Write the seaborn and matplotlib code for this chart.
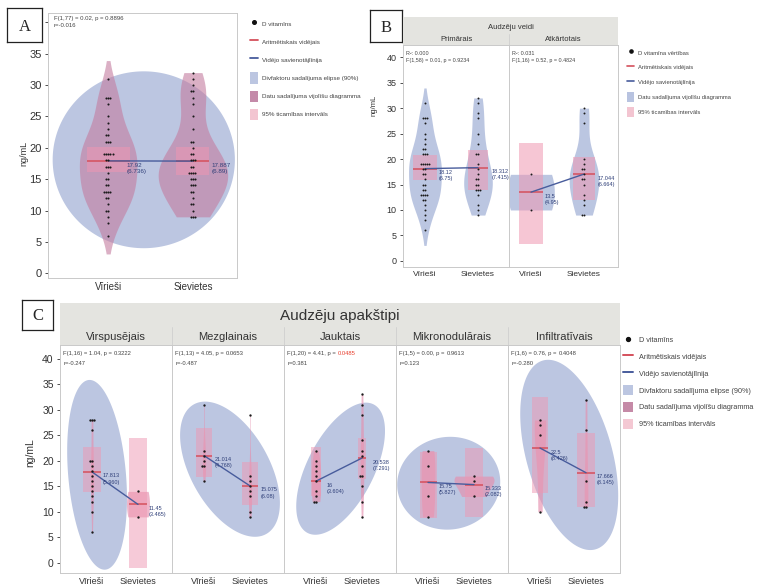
import numpy as np
import pandas as pd
import matplotlib
matplotlib.use("Agg")
import matplotlib.pyplot as plt
import seaborn as sns
from matplotlib.lines import Line2D
from matplotlib.patches import Patch

sns.set_theme(style="white")
plt.rcParams['font.family'] = ['Liberation Sans Narrow', 'Liberation Sans', 'DejaVu Sans']

SEXES = ["Vīrieši", "Sievietes"]

# ---------------- data: panel B (tumour types) ----------------
b_types = ["Primārais", "Atkārtotais"]
prim_men = [31, 28, 28, 28, 27, 25, 24, 23, 22, 22, 21, 21, 21, 19, 19, 19, 19, 19, 18,
            18, 17, 17, 16, 15, 15, 14, 14, 13, 13, 13, 13, 12, 12, 11, 10, 9, 8, 6]
prim_women = [32, 31, 29, 28, 25, 23, 21, 21, 19, 18, 17, 16, 16, 15, 15, 14, 14, 14,
              13, 11, 10, 9]
rec_men = [17, 10]
rec_women = [30, 29, 27, 20, 19, 18, 18, 17, 16, 16, 15, 13, 12, 11, 9, 9]
b_means = [[18.12, 18.312], [13.5, 17.044]]
b_sd = [["6.75", "7.415"], ["4.95", "6.664"]]
b_ci_low = [[15.9, 13.9], [3.4, 11.9]]
b_ci_high = [[20.8, 21.8], [23.1, 20.5]]
b_r2 = ["0.000", "0.031"]
b_f = ["F(1,58) = 0.01, p = 0.9234", "F(1,16) = 0.52, p = 0.4824"]

# ---------------- data: panel A (all patients) ----------------
a_men = prim_men + rec_men
a_women = prim_women + rec_women
a_means = [17.92, 17.887]
a_sd = ["6.736", "6.89"]
a_ci_low = [16.2, 15.7]
a_ci_high = [20.2, 20.2]
a_ellipse = [0.42, 18.1, 1.075, 14.1, 0.0]   # centre x, centre y, half x, half y, r
a_stats = "F(1,77) = 0.02, p = 0.8896\nr=-0.016"

# ---------------- data: panel C (tumour subtypes) ----------------
c_types = ["Virspusējais", "Mezglainais", "Jauktais", "Mikronodulārais", "Infiltratīvais"]
c_men = [[28, 28, 28, 26, 20, 20, 19, 18, 17, 16, 15, 14, 13, 12, 10, 6],
         [31, 22, 21, 20, 19, 19, 16],
         [22, 20, 19, 18, 17, 16, 14, 13, 12, 12],
         [22, 19, 13, 9],
         [28, 27, 25, 10]]
c_women = [[14, 9],
           [29, 17, 16, 15, 14, 13, 10, 9],
           [33, 31, 29, 24, 22, 21, 19, 17, 17, 15, 12, 9],
           [17, 16, 13],
           [32, 26, 16, 12, 11, 11]]
c_means = [[17.813, 11.45], [21.014, 15.075], [16, 20.538], [15.75, 15.333], [22.5, 17.666]]
c_sd = [["5.960", "3.465"], ["4.768", "6.08"], ["3.604", "7.291"], ["5.827", "2.082"],
        ["8.426", "8.145"]]
c_ci_low = [[13.9, -1.0], [16.9, 11.4], [13.0, 16.5], [8.8, 9.0], [13.7, 11.0]]
c_ci_high = [[22.7, 24.5], [26.5, 19.8], [22.7, 24.5], [21.8, 22.5], [32.6, 25.5]]
c_ellipse = [[0.11, 17.25, 0.65, 18.6, -0.25],
             [0.565, 18.35, 1.085, 13.25, -0.5],
             [0.535, 18.45, 0.965, 12.95, 0.57],
             [0.45, 15.6, 1.12, 9.1, 0.03],
             [0.635, 21.15, 1.065, 18.65, -0.43]]
c_f = ["F(1,16) = 1.04", "F(1,13) = 4.05", "F(1,20) = 4.41", "F(1,5) = 0.00", "F(1,6) = 0.76"]
c_p = ["0.3222", "0.0653", "0.0485", "0.9613", "0.4048"]
c_r = ["-0.247", "-0.487", "0.381", "0.123", "-0.280"]

# ---------------- styles ----------------
ELLIPSE = "#bcc6e1"
MAUVE = "#c47c9f"
PINK = "#ef97b2"
BLUE_VIO = "#b8c3e0"
MEAN = "#d4505c"
LINK = "#485c9c"
LABEL = "#2f3f78"
SPINE = "#c9c9c9"
BAND = "#e4e4e0"

fig = plt.figure(figsize=(7.8, 5.87), dpi=100)


def px_axes(x0, y0, x1, y1):
    return fig.add_axes([x0 / 780, 1 - y1 / 587, (x1 - x0) / 780, (y1 - y0) / 587])


def ellipse_xy(cx, cy, sx, sy, r):
    t = np.linspace(0, 2 * np.pi, 240)
    return cx + sx * np.cos(t), cy + sy * (r * np.cos(t) + np.sqrt(1 - r * r) * np.sin(t))


def draw_facet(ax, men, women, means, sd_txt, ci_lo, ci_hi, vio_w, vio_cut, vio_color,
               vio_alpha, ci_w, ci_alpha, lab_dx, lab_size, ellipse=None, dot=2.0):
    if ellipse is not None:
        ex, ey = ellipse_xy(*ellipse)
        ax.fill(ex, ey, color=ELLIPSE, lw=0, zorder=0)
    for i, vals in enumerate([men, women]):
        d = pd.DataFrame({"sex": SEXES[i], "val": vals})
        sns.violinplot(data=d, x="sex", y="val", order=SEXES, ax=ax, color=vio_color,
                       width=vio_w[i], cut=vio_cut[i], inner=None, linewidth=0,
                       saturation=1, alpha=vio_alpha, density_norm="width")
    pos = np.arange(2)
    ax.bar(pos, np.subtract(ci_hi, ci_lo), bottom=ci_lo, width=ci_w, color=PINK,
           alpha=ci_alpha, lw=0, zorder=2)
    half = np.array(ci_w) / 2
    ax.hlines(means, pos - half, pos + half, color=MEAN, lw=1.1, zorder=4)
    ax.plot(pos, means, color=LINK, lw=1.0, zorder=4)
    d_all = pd.DataFrame({"sex": [SEXES[0]] * len(men) + [SEXES[1]] * len(women),
                          "val": list(men) + list(women)})
    sns.swarmplot(data=d_all, x="sex", y="val", order=SEXES, ax=ax, color="#1b1b1b",
                  size=dot, zorder=5)
    for i in range(2):
        ax.text(i + lab_dx, means[i] - 0.3, f"{means[i]:g}\n({sd_txt[i]})", ha="left",
                va="top", fontsize=lab_size, color=LABEL, linespacing=1.3, zorder=6)
    ax.set_xlabel("")
    ax.set_ylabel("")
    for s in ax.spines.values():
        s.set_color(SPINE)
        s.set_linewidth(0.7)


def style_y(ax, show, size):
    ax.set_yticks(range(0, 41, 5))
    if show:
        ax.tick_params(axis="y", labelsize=size, colors="#333333", length=2.5, width=0.6,
                       left=True, pad=2)
    else:
        ax.tick_params(axis="y", left=False, labelleft=False)


def label_box(x0, y0, x1, y1, letter):
    lb = px_axes(x0, y0, x1, y1)
    lb.set_xticks([])
    lb.set_yticks([])
    for s in lb.spines.values():
        s.set_color("#222222")
        s.set_linewidth(0.9)
    lb.text(0.5, 0.45, letter, ha="center", va="center", fontsize=12,
            family="Liberation Serif", transform=lb.transAxes)


# ---------------- panel A ----------------
axA = px_axes(48, 13, 237, 278)
draw_facet(axA, a_men, a_women, a_means, a_sd, a_ci_low, a_ci_high,
           vio_w=[0.68, 0.82], vio_cut=[1.0, 0], vio_color=MAUVE, vio_alpha=0.6,
           ci_w=[0.51, 0.39], ci_alpha=0.55, lab_dx=0.22, lab_size=4.5,
           ellipse=a_ellipse, dot=1.5)
axA.set_xlim(-0.71, 1.52)
axA.set_ylim(-0.75, 41.5)
style_y(axA, True, 8)
axA.tick_params(axis="x", labelsize=7, colors="#333333", length=0, pad=3)
axA.set_ylabel("ng/mL", fontsize=6.5, color="#333333")
axA.yaxis.set_label_coords(-0.105, 0.47)
axA.text(0.03, 0.99, a_stats, transform=axA.transAxes, ha="left", va="top", fontsize=4.3,
         color="#444444", linespacing=1.7)
label_box(7, 8, 42, 42, "A")

legA = [Line2D([], [], marker="o", ls="", color="#111111", ms=2.6),
        Line2D([], [], color=MEAN, lw=1.3),
        Line2D([], [], color=LINK, lw=1.3),
        Patch(fc=ELLIPSE, ec="none"),
        Patch(fc="#c48aa9", ec="none"),
        Patch(fc="#f3c5d1", ec="none")]
labA = ["D vitamīns", "Aritmētiskais vidējais", "Vidējo savienotājlīnija",
        "Divfaktoru sadalījuma elipse (90%)", "Datu sadalījuma vijolīšu diagramma",
        "95% ticamības intervāls"]
fig.legend(legA, labA, loc="upper left", bbox_to_anchor=(250 / 780, 1 - 18 / 587),
           frameon=False, fontsize=4.5, handlelength=1.3, handleheight=2.4,
           labelspacing=1.1, handletextpad=0.6, borderpad=0, borderaxespad=0,
           labelcolor="#444444")

# ---------------- panel B ----------------
label_box(370, 10, 402, 42, "B")
hdrB = px_axes(403, 17, 618, 45)
hdrB.set_facecolor(BAND)
hdrB.set_xticks([])
hdrB.set_yticks([])
for s in hdrB.spines.values():
    s.set_visible(False)
hdrB.text(0.5, 0.62, "Audzēju veidi", ha="center", va="center", fontsize=5.5,
          color="#333333", transform=hdrB.transAxes)
b_edges = [403, 509, 618]
for j, name in enumerate(b_types):
    mid = ((b_edges[j] + b_edges[j + 1]) / 2 - 403) / 215
    hdrB.text(mid, 0.2, name, ha="center", va="center", fontsize=5.5, color="#333333",
              transform=hdrB.transAxes)
hdrB.axvline((509 - 403) / 215, 0, 0.4, color="#cfcfcf", lw=0.6)

b_groups = [(prim_men, prim_women), (rec_men, rec_women)]
b_vio_w = [[0.62, 0.54], [0.88, 0.56]]
b_vio_cut = [[1.0, 0], [0, 0]]
b_ci_w = [[0.44, 0.38], [0.47, 0.41]]
for j in range(2):
    ax = px_axes(b_edges[j], 45, b_edges[j + 1], 267)
    draw_facet(ax, b_groups[j][0], b_groups[j][1], b_means[j], b_sd[j], b_ci_low[j],
               b_ci_high[j], vio_w=b_vio_w[j], vio_cut=b_vio_cut[j], vio_color=BLUE_VIO,
               vio_alpha=0.95, ci_w=b_ci_w[j], ci_alpha=0.55, lab_dx=0.25, lab_size=4,
               dot=1.4)
    ax.set_xlim(-0.415, (b_edges[j + 1] - b_edges[j]) / 53 - 0.415)
    ax.set_ylim(-1.2, 42.4)
    style_y(ax, j == 0, 6.5)
    ax.tick_params(axis="x", labelsize=6, colors="#333333", length=0, pad=3)
    ax.text(0.03, 0.975, f"R²: {b_r2[j]}\n{b_f[j]}", transform=ax.transAxes, ha="left",
            va="top", fontsize=3.9, color="#444444", linespacing=1.7)
    if j == 0:
        ax.set_ylabel("ng/mL", fontsize=5.5, color="#333333")
        ax.yaxis.set_label_coords(-0.236, 0.73)

legB = [Line2D([], [], marker="o", ls="", color="#111111", ms=2.3),
        Line2D([], [], color=MEAN, lw=1.2),
        Line2D([], [], color=LINK, lw=1.2),
        Patch(fc=BLUE_VIO, ec="none"),
        Patch(fc="#f3c5d1", ec="none")]
labB = ["D vitamīna vērtības", "Aritmētiskais vidējais", "Vidējo savienotājlīnija",
        "Datu sadalījuma vijolīšu diagramma", "95% ticamības intervāls"]
fig.legend(legB, labB, loc="upper left", bbox_to_anchor=(627 / 780, 1 - 48 / 587),
           frameon=False, fontsize=4.2, handlelength=1.2, handleheight=2.2,
           labelspacing=0.85, handletextpad=0.6, borderpad=0, borderaxespad=0,
           labelcolor="#444444")

# ---------------- panel C ----------------
label_box(22, 300, 53, 330, "C")
hdrC = px_axes(60, 303, 620, 345)
hdrC.set_facecolor(BAND)
hdrC.set_xticks([])
hdrC.set_yticks([])
for s in hdrC.spines.values():
    s.set_visible(False)
hdrC.text(0.5, 0.7, "Audzēju apakštipi", ha="center", va="center", fontsize=11,
          family="Liberation Sans", color="#333333", transform=hdrC.transAxes)

c_vio_w = [[0.07, 0.5], [0.07, 0.07], [0.2, 0.08], [0.3, 0.87], [0.25, 0.08]]
c_ci_w = [[0.41, 0.37], [0.34, 0.33], [0.22, 0.18], [0.37, 0.37], [0.35, 0.37]]
for j, name in enumerate(c_types):
    x0 = 60 + 112 * j
    hdrC.text((x0 + 56 - 60) / 560, 0.2, name, ha="center", va="center", fontsize=8,
              color="#333333", transform=hdrC.transAxes)
    if j > 0:
        hdrC.axvline((x0 - 60) / 560, 0, 0.42, color="#cfcfcf", lw=0.6)
    ax = px_axes(x0, 345, x0 + 112, 573)
    draw_facet(ax, c_men[j], c_women[j], c_means[j], c_sd[j], c_ci_low[j], c_ci_high[j],
               vio_w=c_vio_w[j], vio_cut=[0, 0], vio_color="#e58fae", vio_alpha=0.65,
               ci_w=c_ci_w[j], ci_alpha=0.5, lab_dx=0.24, lab_size=4,
               ellipse=c_ellipse[j], dot=1.7)
    ax.set_xlim(-0.696, 1.739)
    ax.set_ylim(-2, 42.7)
    style_y(ax, j == 0, 7.5)
    ax.tick_params(axis="x", labelsize=6.5, colors="#333333", length=0, pad=3)
    t1 = ax.text(0.03, 0.975, f"{c_f[j]}, p = ", transform=ax.transAxes, ha="left",
                 va="top", fontsize=4.2, color="#444444")
    p_col = "#e8402f" if float(c_p[j]) < 0.05 else "#444444"
    ax.annotate(c_p[j], xy=(1, 0), xycoords=t1, ha="left", va="bottom", fontsize=4.2,
                color=p_col)
    ax.text(0.03, 0.93, f"r={c_r[j]}", transform=ax.transAxes, ha="left", va="top",
            fontsize=4.2, color="#444444")
    if j == 0:
        ax.set_ylabel("ng/mL", fontsize=7.5, color="#333333")
        ax.yaxis.set_label_coords(-0.223, 0.53)

legC = [Line2D([], [], marker="o", ls="", color="#111111", ms=2.8),
        Line2D([], [], color=MEAN, lw=1.4),
        Line2D([], [], color=LINK, lw=1.4),
        Patch(fc=ELLIPSE, ec="none"),
        Patch(fc="#c58aa7", ec="none"),
        Patch(fc="#f4c8d3", ec="none")]
fig.legend(legC, labA, loc="upper left", bbox_to_anchor=(623 / 780, 1 - 335 / 587),
           frameon=False, fontsize=5.2, handlelength=1.4, handleheight=1.8,
           labelspacing=0.9, handletextpad=0.8, borderpad=0, borderaxespad=0,
           labelcolor="#444444")

fig.savefig("out.png", dpi=100)
